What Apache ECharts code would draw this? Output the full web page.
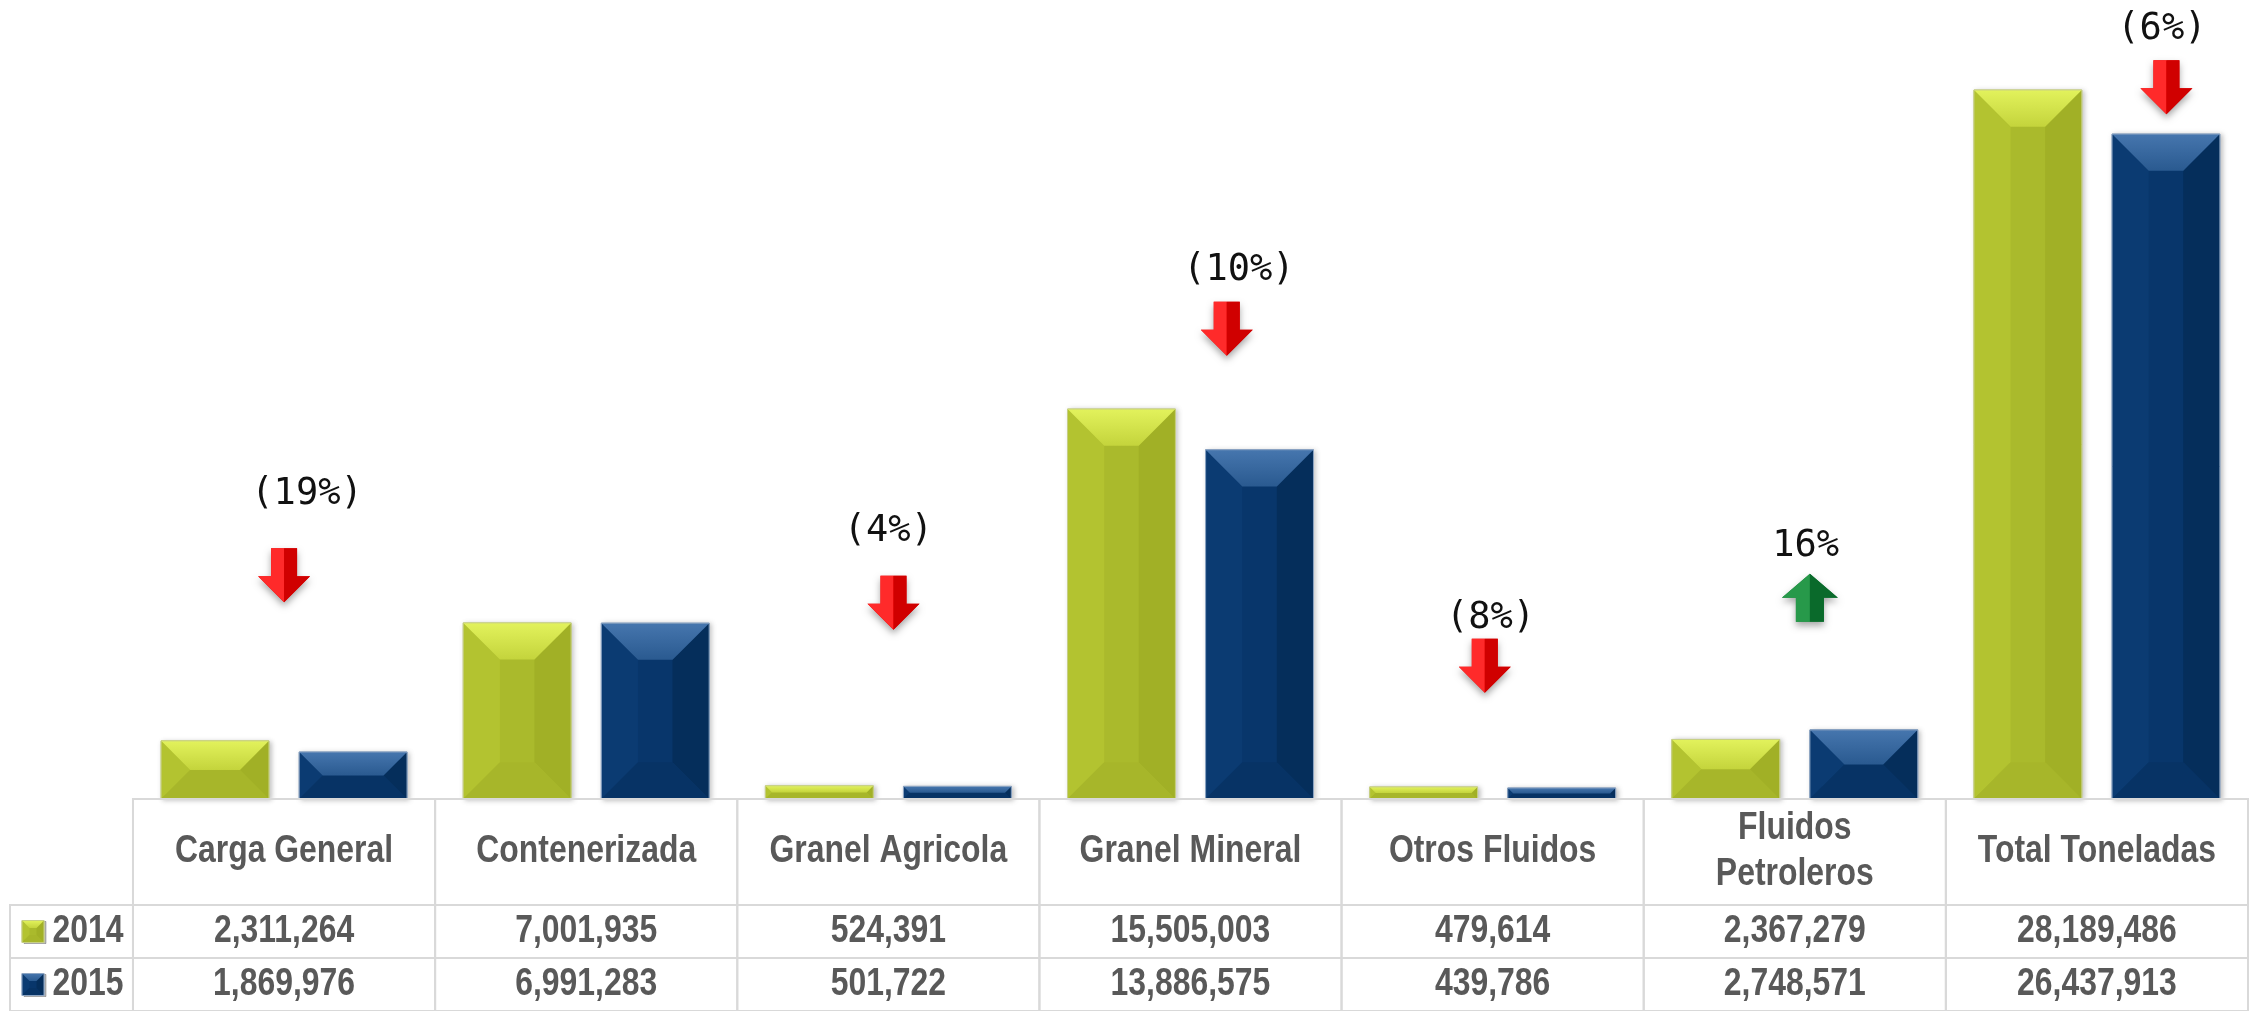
<!DOCTYPE html>
<html>
<head>
<meta charset="utf-8">
<script src="https://cdn.jsdelivr.net/npm/echarts@6/dist/echarts.min.js"></script>
<style>
  html, body { margin: 0; padding: 0; background: #fff; }
  #chart { width: 2262px; height: 1011px; }
</style>
</head>
<body>
<div id="chart"></div>
<script>
// datos
const categories = ['Carga General', 'Contenerizada', 'Granel Agricola', 'Granel Mineral', 'Otros Fluidos', 'Fluidos\nPetroleros', 'Total Toneladas'];
const years = ['2014', '2015'];
const values2014 = [2311264, 7001935, 524391, 15505003, 479614, 2367279, 28189486];
const values2015 = [1869976, 6991283, 501722, 13886575, 439786, 2748571, 26437913];

// where the arrows and the % texts sit (tonnes on the value axis, shift = part of a category)
const arrowLevel = [8.9e6, null, 7.8e6, 18.7e6, 5.3e6, 8.0e6, 28.3e6];
const labelLevel = [12.1e6, null, 10.65e6, 21.0e6, 7.2e6, 10.06e6, 30.6e6];
const arrowShift = [0, 0, 0.017, 0.12, -0.026, 0.05, 0.23];
const labelShift = [0.076, 0, 0, 0.16, -0.007, 0.036, 0.215];

const palettes = {
  '2014': { face: '#aaba2c', top: '#c4d43c', topEdge: '#e2f25c', left: '#b3c330', right: '#a1b026', bottom: '#a7b62a', border: '#c7cf86' },
  '2015': { face: '#08366b', top: '#2a5a90', topEdge: '#4676ae', left: '#0b3b72', right: '#052e5b', bottom: '#073365', border: '#8da5c3' }
};

const fmt = v => v.toLocaleString('en-US');

// caja biselada
function bevelBox(x, y, w, h, pal, shadow) {
  const d = Math.min(w * 0.34, h / 2);
  const b = y + h;
  return [
    { type: 'rect', shape: { x: x, y: y, width: w, height: h },
      style: { fill: pal.face, stroke: pal.border, lineWidth: 1,
        shadowBlur: shadow ? 5 : 0, shadowColor: 'rgba(0,0,0,0.25)', shadowOffsetX: 2, shadowOffsetY: 1 } },
    { type: 'polygon', shape: { points: [[x, y], [x + d, y + d], [x + d, b - d], [x, b]] }, style: { fill: pal.left } },
    { type: 'polygon', shape: { points: [[x + w, y], [x + w - d, y + d], [x + w - d, b - d], [x + w, b]] }, style: { fill: pal.right } },
    { type: 'polygon', shape: { points: [[x, b], [x + d, b - d], [x + w - d, b - d], [x + w, b]] }, style: { fill: pal.bottom } },
    { type: 'polygon', shape: { points: [[x, y], [x + w, y], [x + w - d, y + d], [x + d, y + d]] },
      style: { fill: { type: 'linear', x: 0, y: 0, x2: 0, y2: 1, colorStops: [{ offset: 0, color: pal.topEdge }, { offset: 1, color: pal.top }] } } },
    { type: 'rect', shape: { x: x, y: y, width: w, height: h }, style: { fill: 'none', stroke: pal.border, lineWidth: 1 } }
  ];
}

function barSeries(year, values, side) {
  return {
    name: year,
    type: 'custom',
    xAxisIndex: 0,
    yAxisIndex: 0,
    itemStyle: { color: palettes[year].face },
    data: values.map((v, i) => [i, v]),
    encode: { x: 0, y: 1 },
    renderItem: function (params, api) {
      const i = api.value(0);
      const base = api.coord([i, 0]);
      const top = api.coord([i, api.value(1)]);
      const band = api.size([1, 0])[0];
      const w = band * 0.357;
      const cx = base[0] + side * band * 0.2285;
      return { type: 'group', children: bevelBox(cx - w / 2, top[1], w, base[1] - top[1], palettes[year], true) };
    }
  };
}

// tabla
const cells = [];
categories.forEach((c, i) => cells.push({ kind: 'head', x0: i, x1: i + 1, y0: 0, y1: 2, text: c }));
[values2014, values2015].forEach((vals, r) => {
  cells.push({ kind: 'row', x0: -0.407, x1: 0, y0: r + 2, y1: r + 3, text: years[r] });
  vals.forEach((v, i) => cells.push({ kind: 'val', x0: i, x1: i + 1, y0: r + 2, y1: r + 3, text: fmt(v) }));
});

const tableFont = 'bold 38px "Liberation Sans", Arial, sans-serif';
function cellText(text, x, y) {
  return { type: 'text', x: x, y: y, scaleX: 0.84,
    style: { text: text, fill: '#595959', font: tableFont, align: 'center', verticalAlign: 'middle', lineHeight: 46 } };
}

// flechas
function arrowShape(cx, cy, dir, up) {
  const W = up ? 56 : 52, H = up ? 48 : 54, sw = up ? 28 : 26, hh = up ? 24 : 26;
  const t = -H / 2, nk = H / 2 - hh, bt = H / 2;
  const P = (dx, dy) => [cx + dx, cy + dir * dy];
  const left = [P(0, t), P(-sw / 2, t), P(-sw / 2, nk), P(-W / 2, nk), P(0, bt)];
  const right = [P(0, t), P(sw / 2, t), P(sw / 2, nk), P(W / 2, nk), P(0, bt)];
  const all = [P(-sw / 2, t), P(sw / 2, t), P(sw / 2, nk), P(W / 2, nk), P(0, bt), P(-W / 2, nk), P(-sw / 2, nk)];
  const c = up ? { l: '#27994a', r: '#0a6a2b', s: '#16803a' } : { l: '#ff2a2a', r: '#d00000', s: '#e60000' };
  return [
    { type: 'polygon', shape: { points: all }, style: { fill: c.s, shadowBlur: 7, shadowColor: 'rgba(0,0,0,0.35)', shadowOffsetY: 4 } },
    { type: 'polygon', shape: { points: left }, style: { fill: c.l } },
    { type: 'polygon', shape: { points: right }, style: { fill: c.r } }
  ];
}

const change = values2014.map((v, i) => Math.round((values2015[i] - v) / v * 100));
const arrowData = [];
categories.forEach((c, i) => { if (arrowLevel[i] != null && change[i] !== 0) arrowData.push([i, arrowLevel[i]]); });

const chart = echarts.init(document.getElementById('chart'));
chart.setOption({
  animation: false,
  backgroundColor: '#ffffff',
  grid: [
    { left: 133, right: 14, top: 0, bottom: 212 },
    { left: 10, right: 14, top: 799, bottom: 0 }
  ],
  xAxis: [
    { type: 'category', gridIndex: 0, data: categories, show: false },
    { type: 'value', gridIndex: 1, min: -0.407, max: 7, show: false }
  ],
  yAxis: [
    { type: 'value', gridIndex: 0, min: 0, max: 31767000, show: false },
    { type: 'value', gridIndex: 1, min: 0, max: 4, inverse: true, show: false }
  ],
  series: [
    barSeries('2014', values2014, -1),
    barSeries('2015', values2015, 1),
    {
      type: 'custom',
      xAxisIndex: 1,
      yAxisIndex: 1,
      data: cells.map(c => [c.x0, c.y0]),
      renderItem: function (params, api) {
        const c = cells[params.dataIndex];
        const p0 = api.coord([c.x0, c.y0]);
        const p1 = api.coord([c.x1, c.y1]);
        const kids = [{ type: 'rect', shape: { x: p0[0], y: p0[1], width: p1[0] - p0[0], height: p1[1] - p0[1] },
          style: { fill: 'none', stroke: '#d9d9d9', lineWidth: 2 } }];
        const cy = (p0[1] + p1[1]) / 2;
        if (c.kind === 'row') {
          kids.push({ type: 'group', children: bevelBox(p0[0] + 12, cy - 11, 22, 22, palettes[c.text], false) });
          kids.push(cellText(c.text, p0[0] + 78, cy));
        } else {
          kids.push(cellText(c.text, (p0[0] + p1[0]) / 2, cy));
        }
        return { type: 'group', children: kids };
      }
    },
    {
      type: 'custom',
      xAxisIndex: 0,
      yAxisIndex: 0,
      data: arrowData,
      encode: { x: 0, y: 1 },
      z: 5,
      renderItem: function (params, api) {
        const i = api.value(0);
        const band = api.size([1, 0])[0];
        const pa = api.coord([i, arrowLevel[i]]);
        const pl = api.coord([i, labelLevel[i]]);
        const up = change[i] > 0;
        const txt = up ? change[i] + '%' : '(' + Math.abs(change[i]) + '%)';
        const kids = arrowShape(pa[0] + arrowShift[i] * band, pa[1], up ? -1 : 1, up);
        kids.push({ type: 'text', x: pl[0] + labelShift[i] * band, y: pl[1],
          style: { text: txt, fill: '#111', font: '37px "DejaVu Sans Mono", monospace', align: 'center', verticalAlign: 'middle' } });
        return { type: 'group', children: kids };
      }
    }
  ]
});
</script>
</body>
</html>
